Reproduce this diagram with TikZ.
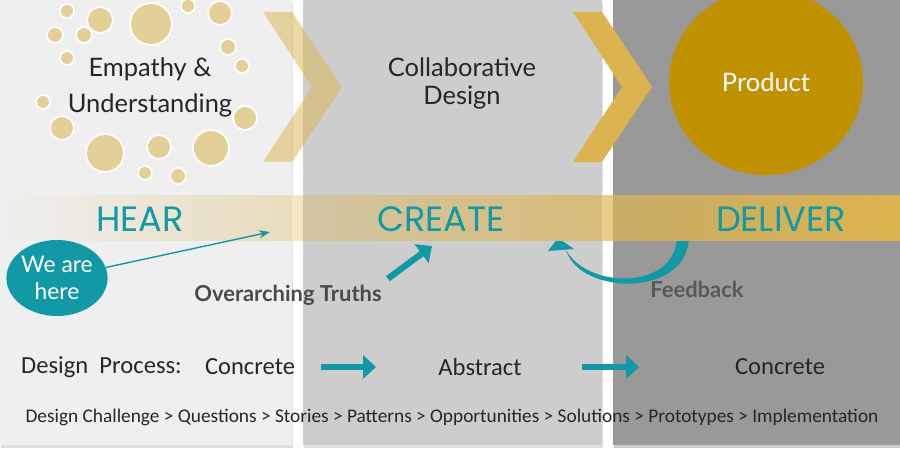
\documentclass[tikz,border=0pt]{standalone}
\usepackage{fontspec}
\setmainfont{Lato}
\newfontfamily\phasefont{Poppins}
\newfontfamily\narrowfont{Carlito}
\usetikzlibrary{positioning,arrows.meta,shapes.geometric}

\definecolor{panelA}{HTML}{EFEFEF}
\definecolor{panelB}{HTML}{CDCDCD}
\definecolor{panelC}{HTML}{999999}
\definecolor{bandgold}{HTML}{DCB44F}
\definecolor{bubble}{HTML}{E3CF98}
\definecolor{productgold}{HTML}{C09100}
\definecolor{tealx}{HTML}{1199A5}
\definecolor{textgray}{HTML}{4A4A4A}

\begin{document}
\begin{tikzpicture}[
x=0.02cm, y=-0.02cm,
title/.style={font=\fontsize{14.5}{20.5}\selectfont, text=black!85, align=center},
phase/.style={font=\phasefont\fontsize{20}{22}\selectfont, text=tealx},
bub/.style={fill=bubble, draw=white, line width=1pt},
chev/.style={fill=bandgold},
label/.style={font=\bfseries\fontsize{12.5}{14}\selectfont, text=textgray},
proc/.style={font=\narrowfont\fontsize{14}{16}\selectfont, text=black!85},
thinarrow/.style={-{Stealth[length=2.2mm]}, line width=0.8pt, tealx},
fatarrow/.style={-{Triangle[length=2.6mm, width=4.6mm]}, line width=3.6pt, tealx}
]
\useasboundingbox (0,0) rectangle (900,456);

% panels
\fill[black!12] (1,3) rectangle (293,448);
\fill[black!12] (304,3) rectangle (603,448);
\fill[black!20] (614,3) rectangle (900,448);
\fill[panelA] (0,0) rectangle (292,445);
\fill[panelB] (303,0) rectangle (602,445);
\fill[panelC] (613,0) rectangle (900,445);

% chevrons
\fill[chev, fill opacity=0.5] (263,12) -- (292,12) -- (342,87) -- (292,162) -- (263,162) -- (312,87) -- cycle;
\fill[chev] (573,12) -- (602,12) -- (652,87) -- (602,162) -- (573,162) -- (622,87) -- cycle;

% feedback loop (its top slips under the band)
\coordinate (fbstart) at (689,236);
\coordinate (fbneck) at (566,250);
\coordinate (fbtip) at (558,238);
\fill[tealx] (fbstart) .. controls (689,298) and (580,296) .. (fbneck)
  .. controls (588,290) and (677,290) .. (677,236) -- cycle;
\fill[tealx] (fbtip) -- (548,251) -- (574,249) -- cycle;

% band, gold fading in from the left over each panel
\shade[left color=panelA, right color=bandgold!32!panelA] (0,196) rectangle (292,240);
\shade[left color=bandgold!33!white, right color=bandgold!34!white] (292,196) rectangle (303,240);
\shade[left color=bandgold!34!panelB, right color=bandgold!67!panelB] (303,196) rectangle (602,240);
\shade[left color=bandgold!67!white, right color=bandgold!68!white] (602,196) rectangle (613,240);
\shade[left color=bandgold!68!panelC, right color=bandgold] (613,196) rectangle (900,240);

% bubbles
\foreach \x/\y/\r in {67/11/7, 100/20/13, 151/24/21, 188/6/7, 220/13/12,
  55/35/8, 84/35/8, 67/58/7, 228/47/8, 242/66/7, 43/102/7, 245/118/12,
  62/128/12, 105/153/19, 159/147/12, 211/148/18, 145/173/7, 178/176/8}
  \draw[bub] (\x,\y) circle[radius=\r];

\node[title] (empathy) at (150,87) {Empathy \&\\Understanding};
\node[title, font=\fontsize{14.5}{16}\selectfont] (collab) at (462,83) {Collaborative\\Design};
\node[ellipse, fill=productgold, minimum width=3.88cm, minimum height=3.72cm, inner sep=0,
  text=white, font=\fontsize{14.5}{18}\selectfont] (product) at (766,82) {Product};

\node[phase] (hear) at (140,219) {HEAR};
\node[phase] (create) at (441,219) {CREATE};
\node[phase] (deliver) at (781,219) {DELIVER};

% where we stand
\node[ellipse, fill=tealx, minimum width=1.88cm, minimum height=1.52cm, inner sep=0,
  text=white, align=center, font=\fontsize{13}{15}\selectfont] (here) at (57,278) {We are\\here};
\coordinate (hearpt) at (270,232);
\draw[thinarrow] (here) -- (hearpt);

\node[label] (truths) at (288,295) {Overarching Truths};
\coordinate (creatept) at (432,246);
\draw[fatarrow] (truths.north east) -- (creatept);

\node[label, text=black!65] (feedback) at (697,289) {Feedback};

% design process row
\node[proc, anchor=west] (dprocess) at (15,367) {Design\ \ Process:};
\node[proc] (concrete1) at (250,367) {Concrete};
\node[proc] (abstract) at (480,367) {Abstract};
\node[proc] (concrete2) at (780,367) {Concrete};
\draw[fatarrow, shorten <=11pt, shorten >=32pt] (concrete1) -- (abstract);
\draw[fatarrow, shorten <=31pt, shorten >=51pt] (abstract) -- (concrete2);

\node[proc, font=\narrowfont\fontsize{11}{13}\selectfont] (steps) at (452,417)
  {Design Challenge > Questions > Stories > Patterns > Opportunities > Solutions > Prototypes > Implementation};
\end{tikzpicture}
\end{document}
